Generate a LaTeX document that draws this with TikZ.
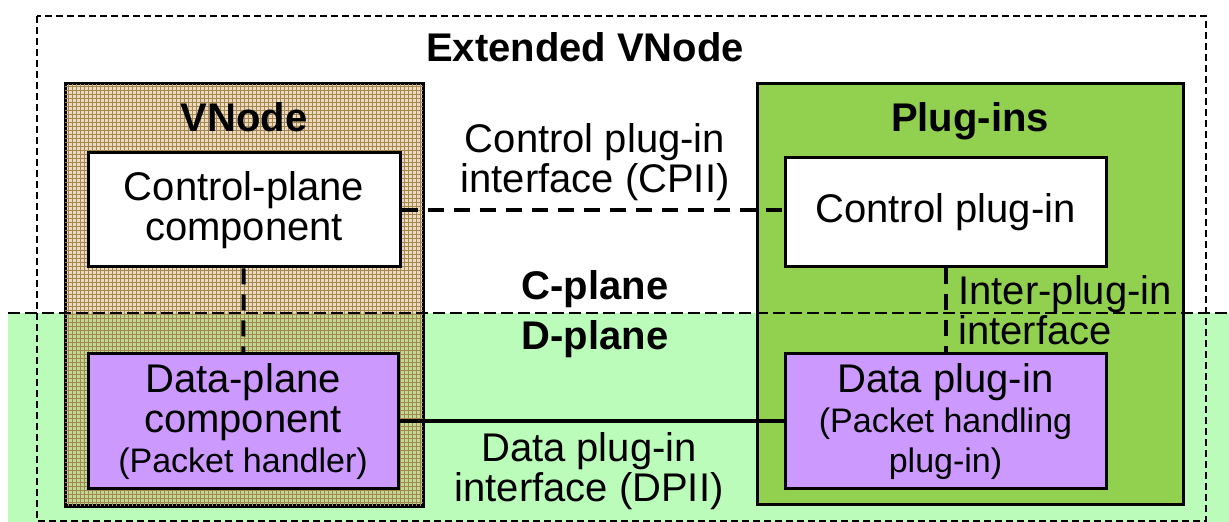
\documentclass[tikz,border=0pt]{standalone}
\usepackage{fontspec}
\setmainfont{Liberation Sans}
\usetikzlibrary{patterns.meta}

\definecolor{dplanegreen}{RGB}{187,252,187}
\definecolor{pluggreen}{RGB}{146,208,80}
\definecolor{compviolet}{RGB}{204,153,255}
\definecolor{vnodetan}{RGB}{196,158,92}

\newcommand{\smalltext}{\fontsize{17}{20}\selectfont}

\begin{document}
\begin{tikzpicture}[
    x=0.5pt, y=-0.5pt,
    every node/.style={font=\fontsize{20}{20}\selectfont, align=center, inner sep=0pt},
    title/.style={font=\fontsize{20}{20}\selectfont\bfseries},
    group/.style={rectangle, draw, line width=1.5pt},
    comp/.style={rectangle, draw, line width=1.5pt, minimum width=156pt},
    ctrllink/.style={line width=2pt, dash pattern=on 8pt off 5pt},
    datalink/.style={line width=2pt},
    planeline/.style={line width=1.3pt, dash pattern=on 6pt off 2.5pt},
    frame/.style={line width=1.2pt, dash pattern=on 3.5pt off 2pt}
]
\useasboundingbox (0,0) rectangle (1229,522);

% D-plane area and extended VNode frame
\fill[dplanegreen] (8,313) rectangle (1229,522);
\draw[frame] (37,16) rectangle (1206,521);

% groups
\node[group, minimum width=179pt, minimum height=211pt,
      fill=vnodetan, fill opacity=0.38,
      postaction={pattern={Lines[angle=0,distance=2pt,line width=0.4pt]}, pattern color=vnodetan!85!black, fill opacity=0.18},
      postaction={pattern={Lines[angle=90,distance=2pt,line width=0.4pt]}, pattern color=vnodetan!85!black, fill opacity=0.18}]
      (vnode) at (244,295) {};
\node[group, fill=pluggreen, minimum width=213pt, minimum height=210.5pt] (plugins) at (970,294.5) {};

\node[title, anchor=base] (vnodelbl) at (244,132) {VNode};
\node[title, anchor=base] (pluglbl) at (970,132) {Plug-ins};

% components
\node[comp, fill=white, minimum height=57pt] (cpc) at (244,210) {Control-plane\\component};
\node[comp, fill=compviolet, minimum width=155pt, minimum height=67.5pt] (dpc) at (243,421.5)
      {Data-plane\\component\\{\smalltext (Packet handler)}};
\node[comp, fill=white, minimum width=160.5pt, minimum height=54.5pt] (cpi) at (945.5,212.5) {Control plug-in};
\node[comp, fill=compviolet, minimum width=160.5pt, minimum height=67.5pt] (dpi) at (945.5,421.5)
      {Data plug-in\\{\smalltext (Packet handling}\\{\smalltext plug-in)}};

% interfaces
\draw[ctrllink] (cpc.east) -- (cpc.east -| cpi.west);
\draw[ctrllink] (cpc) -- (dpc);
\draw[ctrllink] (cpi) -- (dpi);
\draw[datalink] (dpc) -- (dpi);

% C-plane / D-plane border
\draw[planeline] (8,313) -- (1229,313);

\node[title, anchor=base] (ext) at (585,62) {Extended VNode};
\node[title, anchor=base] (cplane) at (595,300) {C-plane};
\node[title, anchor=base] (dplane) at (595,350) {D-plane};
\node[anchor=base] (cpii) at (595,193) {Control plug-in\\interface (CPII)};
\node[anchor=base] (dpii) at (589,502) {Data plug-in\\interface (DPII)};
\node[anchor=base west, align=left] (ipi) at (958,345) {Inter-plug-in\\interface};

\end{tikzpicture}
\end{document}
